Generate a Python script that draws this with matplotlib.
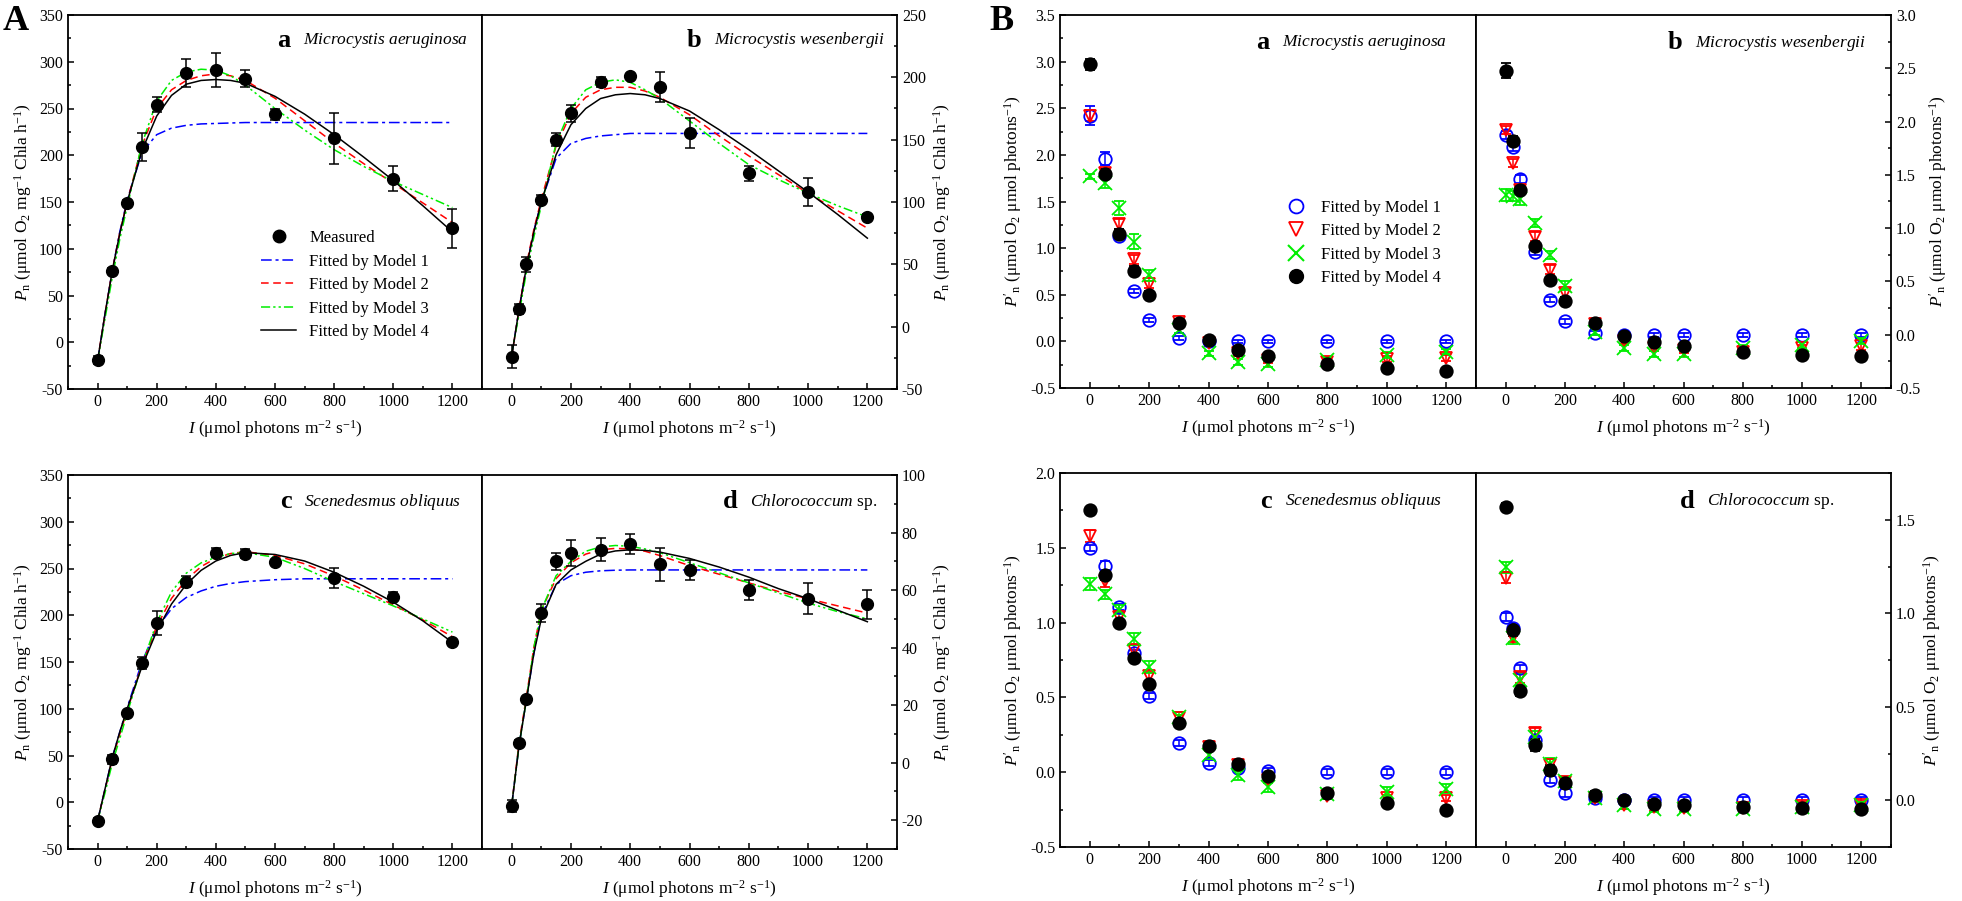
import matplotlib
matplotlib.use("Agg")
import matplotlib.pyplot as plt
from matplotlib.lines import Line2D
from matplotlib.ticker import MultipleLocator, FormatStrFormatter

plt.rcParams["font.family"] = ["Liberation Serif", "DejaVu Serif"]
plt.rcParams["mathtext.fontset"] = "custom"
plt.rcParams["mathtext.rm"] = "Liberation Serif"
plt.rcParams["mathtext.it"] = "Liberation Serif:italic"
plt.rcParams["mathtext.bf"] = "Liberation Serif:bold"
plt.rcParams["axes.unicode_minus"] = False

# ---------------- data: panel A (Pn vs I) ----------------
X12 = [0, 50, 100, 150, 200, 300, 400, 500, 600, 800, 1000, 1200]
X13 = [0, 25, 50, 100, 150, 200, 300, 400, 500, 600, 800, 1000, 1200]
CURVE_X = [0, 25, 50, 75, 100, 150, 200, 250, 300, 350, 400, 450, 500,
           600, 700, 800, 900, 1000, 1100, 1200]

# a  Microcystis aeruginosa
aa_meas = [-19, 76, 149, 209, 254, 288, 291, 282, 244, 218, 175, 122]
aa_err = [4, 3, 3, 15, 8, 15, 18, 9, 6, 27, 13, 21]
aa_m1 = [-20, 30, 77, 118, 152, 203, 222, 229, 232, 233.5, 234, 234.5, 235,
         235, 235, 235, 235, 235, 235, 235]
aa_m2 = [-20, 30, 77, 117, 150, 210, 250, 270, 280, 285, 287, 285, 280,
         261, 237, 213, 191, 170, 149, 128]
aa_m3 = [-20, 25, 70, 110, 145, 212, 258, 280, 289, 292, 291, 285, 275,
         250, 227, 206, 188, 172, 158, 144]
aa_m4 = [-20, 30, 77, 116, 150, 205, 242, 264, 276, 280, 281, 280, 277,
         263, 244, 222, 198, 173, 146, 118]

# b  Microcystis wesenbergii
ab_meas = [-24, 14, 50, 102, 150, 171, 196, 201, 192, 155, 123, 108, 88]
ab_err = [9, 4, 6, 4, 5, 7, 4, 2, 12, 12, 6, 11, 2]
ab_m1 = [-24, 14, 48, 77, 100, 135, 147, 151, 153, 154, 155, 155, 155,
         155, 155, 155, 155, 155, 155, 155]
ab_m2 = [-24, 14, 50, 78, 102, 145, 171, 184, 190, 192, 192, 189, 184,
         170, 153, 137, 122, 107, 93, 79]
ab_m3 = [-22, 10, 44, 72, 97, 147, 175, 190, 196, 198, 196, 190, 183,
         165, 147, 130, 118, 107, 97, 88]
ab_m4 = [-24, 14, 48, 76, 100, 138, 162, 175, 183, 186, 187, 186, 183,
         173, 158, 142, 125, 108, 90, 71]

# c  Scenedesmus obliquus
ac_meas = [-20, 46, 95, 149, 192, 236, 267, 266, 257, 240, 220, 171]
ac_err = [3, 5, 3, 6, 13, 6, 5, 5, 2, 11, 5, 2]
ac_m1 = [-20, 14, 48, 75, 101, 150, 186, 207, 219, 226, 231, 234, 236,
         238, 239, 239, 239, 239, 239, 239]
ac_m2 = [-20, 13, 46, 73, 98, 147, 188, 218, 238, 252, 261, 266, 268,
         264, 255, 242, 227, 211, 195, 177]
ac_m3 = [-20, 10, 42, 68, 95, 147, 192, 225, 245, 256, 262, 266, 267,
         262, 250, 236, 223, 210, 196, 182]
ac_m4 = [-20, 14, 48, 75, 100, 145, 183, 212, 233, 248, 258, 264, 267,
         265, 258, 246, 231, 214, 194, 171]

# d  Chlorococcum sp.
ad_meas = [-15, 7, 22, 52, 70, 73, 74, 76, 69, 67, 60, 57, 55]
ad_err = [2, 1, 1, 3, 3, 4.5, 4, 3.5, 5.7, 3.5, 3.5, 5.4, 5]
ad_m1 = [-15, 6, 22, 38, 51, 62, 65, 66.2, 66.7, 66.9, 67, 67, 67,
         67, 67, 67, 67, 67, 67, 67]
ad_m2 = [-15, 7, 23, 40, 53, 64, 69.5, 72.5, 74, 74.5, 74.3, 73.5, 72,
         68.5, 65.5, 62.5, 59.5, 57, 54.5, 52]
ad_m3 = [-15, 6, 22, 40, 53, 65, 70, 73.5, 75, 75.5, 75.2, 74.3, 73,
         69.5, 66, 62.5, 59, 55.5, 52.5, 50]
ad_m4 = [-15, 6, 22, 38, 50, 62, 67, 70, 72.5, 73.6, 74, 73.8, 73.2,
         71, 68, 64.5, 60.5, 57, 53, 49]

# ---------------- data: panel B (P'n vs I) ----------------
ba_m1 = [2.42, 1.96, 1.13, 0.54, 0.23, 0.04, 0.0, 0.0, 0.0, 0.0, 0.0, 0.0]
ba_m2 = [2.42, 1.81, 1.26, 0.88, 0.61, 0.21, -0.02, -0.13, -0.20, -0.22, -0.19, -0.18]
ba_m3 = [1.77, 1.70, 1.43, 1.07, 0.71, 0.12, -0.13, -0.22, -0.24, -0.20, -0.145, -0.11]
ba_m4 = [2.97, 1.80, 1.15, 0.76, 0.50, 0.20, 0.02, -0.09, -0.16, -0.24, -0.285, -0.315]
ba_e1 = [0.10, 0.07, 0.03, 0.02, 0.02, 0.02, 0.02, 0.02, 0.02, 0.02, 0.02, 0.02]
ba_e2 = [0.06, 0.05, 0.05, 0.05, 0.04, 0.03, 0.03, 0.03, 0.03, 0.03, 0.03, 0.03]
ba_e3 = [0.03, 0.05, 0.08, 0.08, 0.06, 0.03, 0.03, 0.03, 0.03, 0.03, 0.03, 0.03]
ba_e4 = [0.06, 0.05, 0.05, 0.05, 0.04, 0.03, 0.02, 0.03, 0.03, 0.03, 0.03, 0.03]

bb_m1 = [1.875, 1.76, 1.46, 0.775, 0.33, 0.125, 0.015, 0.0, 0.0, 0.0, 0.0, 0.0, 0.0]
bb_m2 = [1.92, 1.61, 1.36, 0.92, 0.61, 0.39, 0.10, -0.06, -0.12, -0.14, -0.16, -0.125, -0.11]
bb_m3 = [1.31, 1.30, 1.27, 1.05, 0.75, 0.46, 0.03, -0.125, -0.18, -0.18, -0.125, -0.094, -0.06]
bb_m4 = [2.475, 1.82, 1.36, 0.83, 0.51, 0.32, 0.11, -0.01, -0.07, -0.11, -0.16, -0.19, -0.20]
bb_e1 = [0.04, 0.04, 0.04, 0.03, 0.02, 0.02, 0.02, 0.02, 0.02, 0.02, 0.02, 0.02, 0.02]
bb_e2 = [0.04, 0.04, 0.04, 0.04, 0.04, 0.04, 0.03, 0.03, 0.03, 0.03, 0.03, 0.03, 0.03]
bb_e3 = [0.06, 0.05, 0.05, 0.04, 0.04, 0.04, 0.03, 0.03, 0.03, 0.03, 0.03, 0.03, 0.03]
bb_e4 = [0.07, 0.04, 0.04, 0.03, 0.03, 0.03, 0.02, 0.02, 0.02, 0.02, 0.02, 0.02, 0.02]

bc_m1 = [1.50, 1.38, 1.107, 0.795, 0.51, 0.192, 0.0625, 0.025, 0.01, 0.0, 0.0, 0.0]
bc_m2 = [1.576, 1.275, 1.04, 0.817, 0.64, 0.36, 0.17, 0.047, -0.05, -0.16, -0.175, -0.175]
bc_m3 = [1.26, 1.19, 1.085, 0.89, 0.70, 0.37, 0.115, -0.02, -0.10, -0.147, -0.13, -0.11]
bc_m4 = [1.75, 1.315, 1.0, 0.765, 0.587, 0.33, 0.175, 0.058, -0.027, -0.138, -0.205, -0.25]
bc_e1 = [0.02, 0.03, 0.02, 0.02, 0.02, 0.02, 0.02, 0.02, 0.02, 0.02, 0.02, 0.02]
bc_e2 = [0.04, 0.04, 0.03, 0.03, 0.03, 0.02, 0.02, 0.02, 0.02, 0.02, 0.02, 0.02]
bc_e3 = [0.04, 0.03, 0.03, 0.04, 0.04, 0.03, 0.03, 0.03, 0.03, 0.03, 0.03, 0.03]
bc_e4 = [0.02, 0.03, 0.02, 0.02, 0.02, 0.02, 0.02, 0.02, 0.02, 0.02, 0.02, 0.02]

bd_m1 = [0.98, 0.92, 0.705, 0.32, 0.11, 0.04, 0.01, 0.0, 0.0, 0.0, 0.0, 0.0, 0.0]
bd_m2 = [1.19, 0.875, 0.657, 0.357, 0.19, 0.10, 0.01, -0.027, -0.036, -0.041, -0.041, -0.03, -0.023]
bd_m3 = [1.246, 0.866, 0.643, 0.34, 0.196, 0.104, 0.014, -0.027, -0.045, -0.045, -0.045, -0.036, -0.027]
bd_m4 = [1.568, 0.91, 0.586, 0.295, 0.16, 0.09, 0.027, 0.0, -0.018, -0.027, -0.036, -0.041, -0.045]
bd_e1 = [0.02, 0.02, 0.02, 0.02, 0.02, 0.02, 0.02, 0.02, 0.02, 0.02, 0.02, 0.02, 0.02]
bd_e2 = [0.03, 0.03, 0.03, 0.03, 0.03, 0.02, 0.02, 0.02, 0.02, 0.02, 0.02, 0.02, 0.02]
bd_e3 = [0.03, 0.03, 0.03, 0.03, 0.03, 0.02, 0.02, 0.02, 0.02, 0.02, 0.02, 0.02, 0.02]
bd_e4 = [0.02, 0.03, 0.03, 0.03, 0.03, 0.02, 0.02, 0.02, 0.02, 0.02, 0.02, 0.02, 0.02]

MODEL_LABELS = ["Fitted by Model 1", "Fitted by Model 2", "Fitted by Model 3", "Fitted by Model 4"]
MODEL_COLORS = ["#0000ff", "#ff0000", "#00ee00", "#000000"]
LINE_STYLES = [(0, (7, 2.5, 2, 2.5)), (0, (5, 3)), (0, (6, 2, 1.5, 2, 1.5, 2)), "-"]

# ---------------- layout helpers ----------------
W, H = 1962, 901
fig = plt.figure(figsize=(W / 100, H / 100), dpi=100)


def rect(x0, y0, x1, y1):
    return [x0 / W, 1 - y1 / H, (x1 - x0) / W, (y1 - y0) / H]


YLAB_A = r"$P_{\mathrm{n}}$ (μmol O$_2$ mg$^{-1}$ Chla h$^{-1}$)"
YLAB_B = r"$P'_{\mathrm{n}}$ (μmol O$_2$ μmol photons$^{-1}$)"
XLAB = r"$I$ (μmol photons m$^{-2}$ s$^{-1}$)"


def style_axes(ax, side, ylim, ymaj, ymin_, yfmt=None, ylabel=""):
    ax.set_xlim(-100, 1300)
    ax.set_ylim(*ylim)
    ax.xaxis.set_major_locator(MultipleLocator(200))
    ax.xaxis.set_minor_locator(MultipleLocator(100))
    ax.yaxis.set_major_locator(MultipleLocator(ymaj))
    ax.yaxis.set_minor_locator(MultipleLocator(ymin_))
    if yfmt:
        ax.yaxis.set_major_formatter(FormatStrFormatter(yfmt))
    for s in ax.spines.values():
        s.set_linewidth(1.3)
    ax.tick_params(which="both", direction="in", top=False, labelsize=11.5,
                   width=1.1)
    ax.tick_params(which="major", length=4.5)
    ax.tick_params(which="minor", length=2.5)
    if side == "right":
        ax.yaxis.tick_right()
        ax.yaxis.set_label_position("right")
        ax.tick_params(which="both", left=False, right=True)
    else:
        ax.tick_params(which="both", right=False)
    ax.set_xlabel(XLAB, fontsize=12.5, labelpad=6)
    ax.set_ylabel(ylabel, fontsize=12.5, labelpad=4)


def panel_title(ax, letter, species, xr, yr):
    t = ax.text(xr, yr, species, transform=ax.transAxes, ha="right",
                va="center", fontsize=12.5)
    ax.annotate(letter, xy=(0, 0.5), xycoords=t, xytext=(-9, 0),
                textcoords="offset points", ha="right", va="center",
                fontsize=19, fontweight="bold")


def draw_a(ax, xs, meas, err, curves):
    for vals, c, ls in zip(curves, MODEL_COLORS, LINE_STYLES):
        ax.plot(CURVE_X, vals, color=c, ls=ls, lw=1.1, zorder=2)
    ax.errorbar(xs, meas, yerr=err, fmt="o", color="k", ms=8.5, capsize=3.5,
                elinewidth=1.1, capthick=1.1, zorder=3)


def draw_b(ax, xs, series, errs):
    markers = ["o", "v", "x", "o"]
    for vals, e, c, m in zip(series, errs, MODEL_COLORS, markers):
        mfc = c if m == "o" and c == "#000000" else "none"
        ax.errorbar(xs, vals, yerr=e, fmt=m, color=c, mfc=mfc, mec=c,
                    ms=9 if m != "x" else 10, mew=1.3, capsize=3.5,
                    elinewidth=1.1, capthick=1.1, zorder=3)


# ---------------- panel A ----------------
ax1 = fig.add_axes(rect(68, 15, 482, 389))
draw_a(ax1, X12, aa_meas, aa_err, [aa_m1, aa_m2, aa_m3, aa_m4])
style_axes(ax1, "left", (-50, 350), 50, 25, ylabel=YLAB_A)
panel_title(ax1, "a", r"$\mathit{Microcystis\ aeruginosa}$", 0.965, 0.933)
handles = [Line2D([], [], marker="o", color="k", ls="none", ms=9)]
handles += [Line2D([], [], color=c, ls=ls, lw=1.1) for c, ls in zip(MODEL_COLORS, LINE_STYLES)]
ax1.legend(handles, ["Measured"] + MODEL_LABELS, loc="upper left",
           bbox_to_anchor=(0.43, 0.465), frameon=False, fontsize=12,
           handlelength=2.1, handletextpad=0.8, labelspacing=0.45)

ax2 = fig.add_axes(rect(482, 15, 897, 389))
draw_a(ax2, X13, ab_meas, ab_err, [ab_m1, ab_m2, ab_m3, ab_m4])
style_axes(ax2, "right", (-50, 250), 50, 25, ylabel=YLAB_A)
panel_title(ax2, "b", r"$\mathit{Microcystis\ wesenbergii}$", 0.97, 0.933)

ax3 = fig.add_axes(rect(68, 475, 482, 849))
draw_a(ax3, X12, ac_meas, ac_err, [ac_m1, ac_m2, ac_m3, ac_m4])
style_axes(ax3, "left", (-50, 350), 50, 25, ylabel=YLAB_A)
panel_title(ax3, "c", r"$\mathit{Scenedesmus\ obliquus}$", 0.95, 0.928)

ax4 = fig.add_axes(rect(482, 475, 897, 849))
draw_a(ax4, X13, ad_meas, ad_err, [ad_m1, ad_m2, ad_m3, ad_m4])
style_axes(ax4, "right", (-30, 100), 20, 10, ylabel=YLAB_A)
panel_title(ax4, "d", r"$\mathit{Chlorococcum}$ sp.", 0.952, 0.928)

# ---------------- panel B ----------------
bx1 = fig.add_axes(rect(1060, 15, 1476, 388))
draw_b(bx1, X12, [ba_m1, ba_m2, ba_m3, ba_m4], [ba_e1, ba_e2, ba_e3, ba_e4])
style_axes(bx1, "left", (-0.5, 3.5), 0.5, 0.25, "%.1f", YLAB_B)
panel_title(bx1, "a", r"$\mathit{Microcystis\ aeruginosa}$", 0.93, 0.925)
bhandles = [Line2D([], [], marker="o", ls="none", mfc="none", mec="#0000ff", mew=1.3, ms=10),
            Line2D([], [], marker="v", ls="none", mfc="none", mec="#ff0000", mew=1.3, ms=10),
            Line2D([], [], marker="x", ls="none", mec="#00ee00", mew=1.5, ms=11),
            Line2D([], [], marker="o", ls="none", mfc="k", mec="k", ms=10)]
bx1.legend(bhandles, MODEL_LABELS, loc="upper left", bbox_to_anchor=(0.49, 0.545),
           frameon=False, fontsize=12, handletextpad=0.5, labelspacing=0.45)

bx2 = fig.add_axes(rect(1476, 15, 1891, 388))
draw_b(bx2, X13, [bb_m1, bb_m2, bb_m3, bb_m4], [bb_e1, bb_e2, bb_e3, bb_e4])
style_axes(bx2, "right", (-0.5, 3.0), 0.5, 0.25, "%.1f", YLAB_B)
panel_title(bx2, "b", r"$\mathit{Microcystis\ wesenbergii}$", 0.94, 0.925)

bx3 = fig.add_axes(rect(1060, 473, 1476, 847))
draw_b(bx3, X12, [bc_m1, bc_m2, bc_m3, bc_m4], [bc_e1, bc_e2, bc_e3, bc_e4])
style_axes(bx3, "left", (-0.5, 2.0), 0.5, 0.25, "%.1f", YLAB_B)
panel_title(bx3, "c", r"$\mathit{Scenedesmus\ obliquus}$", 0.918, 0.925)

bx4 = fig.add_axes(rect(1476, 473, 1891, 847))
draw_b(bx4, X13, [bd_m1, bd_m2, bd_m3, bd_m4], [bd_e1, bd_e2, bd_e3, bd_e4])
style_axes(bx4, "right", (-0.25, 1.75), 0.5, 0.25, "%.1f", YLAB_B)
panel_title(bx4, "d", r"$\mathit{Chlorococcum}$ sp.", 0.863, 0.925)

fig.text(16 / W, 1 - 22 / H, "A", fontsize=26, fontweight="bold", ha="center", va="center")
fig.text(1001 / W, 1 - 22 / H, "B", fontsize=26, fontweight="bold", ha="center", va="center")

fig.savefig("out.png", dpi=100)
